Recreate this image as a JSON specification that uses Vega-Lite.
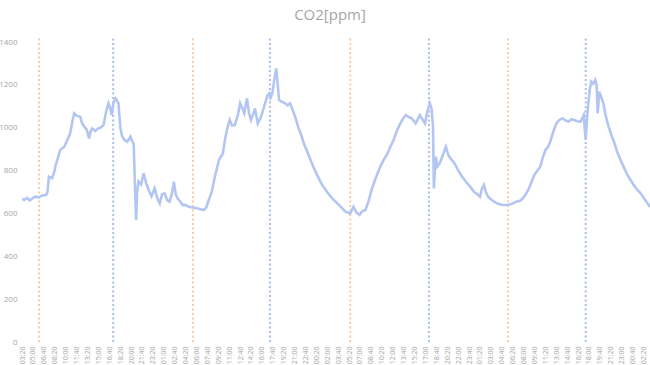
{
  "$schema": "https://vega.github.io/schema/vega-lite/v6.json",
  "width": 628,
  "height": 300,
  "autosize": {"type": "none"},
  "padding": {"left": 22, "top": 42, "right": 0, "bottom": 23},
  "background": "white",
  "config": {"view": {"stroke": null}, "font": "Open Sans"},
  "title": {"text": "CO2[ppm]", "fontSize": 15, "fontWeight": "normal", "color": "#a6a6a6", "font": "Open Sans", "anchor": "middle", "dx": -6, "offset": 14},
  "datasets": {
    "co2": [
      {"h": 0.0, "ppm": 668}, {"h": 0.31, "ppm": 663}, {"h": 0.8, "ppm": 672}, {"h": 1.2, "ppm": 660}, {"h": 1.55, "ppm": 670},
      {"h": 2.0, "ppm": 678}, {"h": 2.58, "ppm": 675}, {"h": 3.1, "ppm": 684}, {"h": 3.69, "ppm": 686}, {"h": 3.9, "ppm": 700},
      {"h": 4.11, "ppm": 771}, {"h": 4.6, "ppm": 764}, {"h": 4.9, "ppm": 790}, {"h": 5.23, "ppm": 834}, {"h": 5.5, "ppm": 860},
      {"h": 5.84, "ppm": 896}, {"h": 6.45, "ppm": 911}, {"h": 6.9, "ppm": 940}, {"h": 7.37, "ppm": 974}, {"h": 7.7, "ppm": 1030},
      {"h": 7.98, "ppm": 1067}, {"h": 8.4, "ppm": 1055}, {"h": 8.91, "ppm": 1051}, {"h": 9.2, "ppm": 1020}, {"h": 9.52, "ppm": 1005},
      {"h": 9.9, "ppm": 990}, {"h": 10.26, "ppm": 950}, {"h": 10.5, "ppm": 985}, {"h": 10.75, "ppm": 997}, {"h": 11.2, "ppm": 985},
      {"h": 11.66, "ppm": 997}, {"h": 12.0, "ppm": 1000}, {"h": 12.47, "ppm": 1013}, {"h": 12.9, "ppm": 1080}, {"h": 13.21, "ppm": 1114},
      {"h": 13.5, "ppm": 1090}, {"h": 13.7, "ppm": 1059}, {"h": 14.0, "ppm": 1120}, {"h": 14.31, "ppm": 1137}, {"h": 14.74, "ppm": 1114},
      {"h": 15.04, "ppm": 997}, {"h": 15.3, "ppm": 960}, {"h": 15.67, "ppm": 943}, {"h": 16.1, "ppm": 935}, {"h": 16.59, "ppm": 958},
      {"h": 16.8, "ppm": 940}, {"h": 17.07, "ppm": 927}, {"h": 17.3, "ppm": 700}, {"h": 17.44, "ppm": 569}, {"h": 17.6, "ppm": 700},
      {"h": 17.81, "ppm": 748}, {"h": 18.2, "ppm": 735}, {"h": 18.6, "ppm": 787}, {"h": 19.0, "ppm": 740}, {"h": 19.35, "ppm": 709},
      {"h": 19.8, "ppm": 680}, {"h": 20.27, "ppm": 717}, {"h": 20.7, "ppm": 670}, {"h": 21.06, "ppm": 647}, {"h": 21.4, "ppm": 690},
      {"h": 21.8, "ppm": 694}, {"h": 22.2, "ppm": 662}, {"h": 22.55, "ppm": 655}, {"h": 22.9, "ppm": 690}, {"h": 23.22, "ppm": 748},
      {"h": 23.5, "ppm": 690}, {"h": 23.77, "ppm": 670}, {"h": 24.2, "ppm": 655}, {"h": 24.56, "ppm": 639}, {"h": 25.0, "ppm": 640},
      {"h": 25.48, "ppm": 631}, {"h": 26.1, "ppm": 628}, {"h": 26.72, "ppm": 624}, {"h": 27.3, "ppm": 620}, {"h": 27.82, "ppm": 616},
      {"h": 28.2, "ppm": 630}, {"h": 28.55, "ppm": 663}, {"h": 29.0, "ppm": 700}, {"h": 29.48, "ppm": 771}, {"h": 29.8, "ppm": 810},
      {"h": 30.1, "ppm": 849}, {"h": 30.71, "ppm": 880}, {"h": 31.0, "ppm": 940}, {"h": 31.32, "ppm": 989}, {"h": 31.75, "ppm": 1036},
      {"h": 32.1, "ppm": 1010}, {"h": 32.56, "ppm": 1013}, {"h": 33.0, "ppm": 1060}, {"h": 33.35, "ppm": 1114}, {"h": 33.7, "ppm": 1090},
      {"h": 33.97, "ppm": 1067}, {"h": 34.39, "ppm": 1137}, {"h": 34.7, "ppm": 1070}, {"h": 35.0, "ppm": 1036}, {"h": 35.3, "ppm": 1060},
      {"h": 35.62, "ppm": 1090}, {"h": 36.04, "ppm": 1020}, {"h": 36.55, "ppm": 1051}, {"h": 37.16, "ppm": 1114}, {"h": 37.5, "ppm": 1150},
      {"h": 37.77, "ppm": 1160}, {"h": 38.0, "ppm": 1140}, {"h": 38.26, "ppm": 1160}, {"h": 38.6, "ppm": 1230}, {"h": 38.87, "ppm": 1277},
      {"h": 39.1, "ppm": 1200}, {"h": 39.3, "ppm": 1129}, {"h": 39.8, "ppm": 1120}, {"h": 40.23, "ppm": 1114}, {"h": 40.6, "ppm": 1105},
      {"h": 40.97, "ppm": 1114}, {"h": 41.4, "ppm": 1080}, {"h": 41.76, "ppm": 1051}, {"h": 42.2, "ppm": 1005}, {"h": 42.68, "ppm": 966},
      {"h": 43.1, "ppm": 925}, {"h": 43.61, "ppm": 888}, {"h": 44.1, "ppm": 850}, {"h": 44.53, "ppm": 818}, {"h": 45.1, "ppm": 780},
      {"h": 45.75, "ppm": 740}, {"h": 46.4, "ppm": 710}, {"h": 46.99, "ppm": 686}, {"h": 47.6, "ppm": 665}, {"h": 48.21, "ppm": 647},
      {"h": 48.8, "ppm": 628}, {"h": 49.43, "ppm": 608}, {"h": 50.18, "ppm": 600}, {"h": 50.67, "ppm": 631}, {"h": 51.1, "ppm": 605},
      {"h": 51.59, "ppm": 593}, {"h": 52.0, "ppm": 610}, {"h": 52.51, "ppm": 616}, {"h": 53.0, "ppm": 660}, {"h": 53.42, "ppm": 709},
      {"h": 53.9, "ppm": 750}, {"h": 54.35, "ppm": 787}, {"h": 54.8, "ppm": 820}, {"h": 55.27, "ppm": 849}, {"h": 55.88, "ppm": 880},
      {"h": 56.3, "ppm": 910}, {"h": 56.8, "ppm": 943}, {"h": 57.3, "ppm": 985}, {"h": 57.73, "ppm": 1013}, {"h": 58.2, "ppm": 1040},
      {"h": 58.65, "ppm": 1059}, {"h": 59.1, "ppm": 1050}, {"h": 59.57, "ppm": 1044}, {"h": 60.18, "ppm": 1020}, {"h": 60.81, "ppm": 1059},
      {"h": 61.2, "ppm": 1040}, {"h": 61.6, "ppm": 1020}, {"h": 62.0, "ppm": 1080}, {"h": 62.34, "ppm": 1114}, {"h": 62.6, "ppm": 1090},
      {"h": 62.83, "ppm": 1005}, {"h": 62.96, "ppm": 717}, {"h": 63.25, "ppm": 865}, {"h": 63.5, "ppm": 820}, {"h": 63.86, "ppm": 834},
      {"h": 64.3, "ppm": 870}, {"h": 64.8, "ppm": 911}, {"h": 65.2, "ppm": 870}, {"h": 65.71, "ppm": 849}, {"h": 66.2, "ppm": 830},
      {"h": 66.63, "ppm": 803}, {"h": 67.2, "ppm": 775}, {"h": 67.87, "ppm": 748}, {"h": 68.5, "ppm": 725}, {"h": 69.09, "ppm": 701},
      {"h": 69.6, "ppm": 690}, {"h": 70.01, "ppm": 678}, {"h": 70.3, "ppm": 715}, {"h": 70.62, "ppm": 733}, {"h": 70.9, "ppm": 700},
      {"h": 71.25, "ppm": 678}, {"h": 71.7, "ppm": 665}, {"h": 72.16, "ppm": 655}, {"h": 72.8, "ppm": 645}, {"h": 73.39, "ppm": 639},
      {"h": 74.31, "ppm": 639}, {"h": 74.9, "ppm": 645}, {"h": 75.55, "ppm": 655}, {"h": 76.2, "ppm": 660}, {"h": 76.77, "ppm": 678},
      {"h": 77.38, "ppm": 709}, {"h": 77.8, "ppm": 740}, {"h": 78.31, "ppm": 779}, {"h": 78.8, "ppm": 800}, {"h": 79.23, "ppm": 818},
      {"h": 79.6, "ppm": 860}, {"h": 80.02, "ppm": 896}, {"h": 80.4, "ppm": 910}, {"h": 80.76, "ppm": 935}, {"h": 81.2, "ppm": 980},
      {"h": 81.68, "ppm": 1020}, {"h": 82.1, "ppm": 1035}, {"h": 82.61, "ppm": 1044}, {"h": 83.0, "ppm": 1035}, {"h": 83.53, "ppm": 1028},
      {"h": 84.0, "ppm": 1040}, {"h": 84.44, "ppm": 1036}, {"h": 84.9, "ppm": 1030}, {"h": 85.37, "ppm": 1028}, {"h": 85.86, "ppm": 1059},
      {"h": 86.17, "ppm": 943}, {"h": 86.47, "ppm": 1083}, {"h": 86.8, "ppm": 1180}, {"h": 87.02, "ppm": 1215}, {"h": 87.3, "ppm": 1205},
      {"h": 87.63, "ppm": 1223}, {"h": 87.85, "ppm": 1200}, {"h": 88.0, "ppm": 1067}, {"h": 88.25, "ppm": 1168}, {"h": 88.87, "ppm": 1114},
      {"h": 89.2, "ppm": 1060}, {"h": 89.66, "ppm": 1005}, {"h": 90.1, "ppm": 965}, {"h": 90.58, "ppm": 927}, {"h": 91.0, "ppm": 885},
      {"h": 91.5, "ppm": 849}, {"h": 92.0, "ppm": 815}, {"h": 92.43, "ppm": 787}, {"h": 92.9, "ppm": 762}, {"h": 93.35, "ppm": 740},
      {"h": 94.0, "ppm": 712}, {"h": 94.57, "ppm": 694}, {"h": 95.2, "ppm": 665}, {"h": 95.8, "ppm": 639}, {"h": 96.0, "ppm": 630}
    ],
    "marks": [
      {"h": 2.6, "kind": "orange"}, {"h": 26.14, "kind": "orange"}, {"h": 50.18, "kind": "orange"}, {"h": 74.31, "kind": "orange"},
      {"h": 13.94, "kind": "blue"}, {"h": 37.9, "kind": "blue"}, {"h": 62.21, "kind": "blue"}, {"h": 86.17, "kind": "blue"}
    ]
  },
  "encoding": {
    "x": {
      "field": "h", "type": "quantitative",
      "scale": {"domain": [0, 96], "nice": false, "zero": false},
      "axis": {
        "title": null, "grid": false, "domain": false, "ticks": false,
        "values": [0,1.666667,3.333333,5,6.666667,8.333333,10,11.666667,13.333333,15,16.666667,18.333333,20,21.666667,23.333333,25,26.666667,28.333333,30,31.666667,33.333333,35,36.666667,38.333333,40,41.666667,43.333333,45,46.666667,48.333333,50,51.666667,53.333333,55,56.666667,58.333333,60,61.666667,63.333333,65,66.666667,68.333333,70,71.666667,73.333333,75,76.666667,78.333333,80,81.666667,83.333333,85,86.666667,88.333333,90,91.666667,93.333333,95],
        "labelExpr": "(floor(((round(datum.value*60)+200)/60)%24) < 10 ? '0' : '') + floor(((round(datum.value*60)+200)/60)%24) + ':' + (((round(datum.value*60)+200)%60) < 10 ? '0' : '') + ((round(datum.value*60)+200)%60)",
        "labelAngle": -90, "labelFontSize": 7, "labelColor": "#a6a6a6", "labelPadding": 4,
        "labelOverlap": false, "labelFlush": false, "labelBound": false
      }
    }
  },
  "layer": [
    {
      "data": {"name": "marks"},
      "mark": {"type": "rule", "strokeWidth": 2, "strokeDash": [2, 2.5], "clip": false},
      "encoding": {
        "y": {"datum": 0, "type": "quantitative"},
        "y2": {"datum": 1420},
        "color": {"field": "kind", "type": "nominal", "scale": {"domain": ["orange", "blue"], "range": ["#f6cba5", "#a9bfec"]}, "legend": null}
      }
    },
    {
      "data": {"name": "co2"},
      "mark": {"type": "line", "stroke": "#b3c6f2", "strokeWidth": 2.6, "clip": true},
      "encoding": {
        "y": {
          "field": "ppm", "type": "quantitative",
          "scale": {"domain": [0, 1400], "nice": false},
          "axis": {
            "title": null, "grid": false, "domain": false, "ticks": false, "format": "d",
            "values": [0, 200, 400, 600, 800, 1000, 1200, 1400],
            "labelFontSize": 8, "labelColor": "#a6a6a6", "labelPadding": 5
          }
        }
      }
    }
  ]
}
